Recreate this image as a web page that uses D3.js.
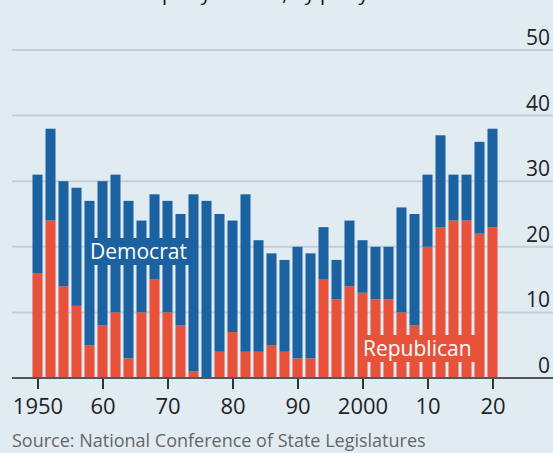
<!DOCTYPE html>
<html>
<head>
<meta charset="utf-8">
<script src="https://cdn.jsdelivr.net/npm/d3@7"></script>
<style>
  body { margin: 0; background: #e1ebf2; }
  svg { display: block; font-family: "Open Sans", sans-serif; }
</style>
</head>
<body>
<div id="chart"></div>
<script>
// states with one-party control, every two years
var years = d3.range(1950, 2021, 2);
var republican = [16,24,14,11,5,8,10,3,10,15,10,8,1,0,4,7,4,4,5,4,3,3,15,12,14,13,12,12,10,8,20,23,24,24,22,23];
var democrat   = [15,14,16,18,22,22,21,24,14,13,17,17,27,27,21,17,24,17,14,14,17,16,8,6,10,8,8,8,16,17,11,14,7,7,14,15];
var yTicks = [0, 10, 20, 30, 40, 50];
var xTicks = [1950, 1960, 1970, 1980, 1990, 2000, 2010, 2020];

var width = 553, height = 453;
var blue = "#1c62a0", red = "#e8513a";

var svg = d3.select("#chart").append("svg")
    .attr("width", width)
    .attr("height", height);

svg.append("rect")
    .attr("width", width)
    .attr("height", height)
    .attr("fill", "#e1ebf2");

var x = d3.scaleLinear().domain([1950, 2020]).range([37.5, 492.5]);
var y = d3.scaleLinear().domain([0, 50]).range([378, 50]);
var barW = 10;

// title, mostly cropped off the top as in the original
svg.append("text")
    .attr("x", 162)
    .attr("y", 0)
    .attr("font-size", "20px")
    .attr("fill", "#111")
    .text("party control, by party");

// gridlines
svg.append("g").selectAll("line")
    .data(yTicks.filter(function(d) { return d > 0; }))
    .enter().append("line")
    .attr("x1", 12)
    .attr("x2", width)
    .attr("y1", function(d) { return y(d); })
    .attr("y2", function(d) { return y(d); })
    .attr("stroke", "#c3cfd8")
    .attr("stroke-width", 2);

// y labels sit above their gridline on the right
svg.append("g").selectAll("text")
    .data(yTicks)
    .enter().append("text")
    .attr("x", 550)
    .attr("y", function(d) { return y(d) - 5; })
    .attr("text-anchor", "end")
    .attr("font-size", "21px")
    .attr("fill", "#222")
    .text(function(d) { return d; });

// stacked bars
var rows = years.map(function(yr, i) {
    return { year: yr, republican: republican[i], democrat: democrat[i] };
});
var series = d3.stack().keys(["republican", "democrat"])(rows);
var color = d3.scaleOrdinal().domain(["republican", "democrat"]).range([red, blue]);

svg.append("g").selectAll("g")
    .data(series)
    .enter().append("g")
    .attr("fill", function(d) { return color(d.key); })
    .selectAll("rect")
    .data(function(d) { return d; })
    .enter().append("rect")
    .attr("x", function(d) { return x(d.data.year) - barW / 2; })
    .attr("width", barW)
    .attr("y", function(d) { return y(d[1]); })
    .attr("height", function(d) { return y(d[0]) - y(d[1]); });

// x axis
var xAxis = d3.axisBottom(x)
    .tickValues(xTicks)
    .tickSize(11)
    .tickPadding(9)
    .tickFormat(function(d) { return (d === 1950 || d === 2000) ? d : d3.format("02d")(d % 100); });

var gx = svg.append("g")
    .attr("transform", "translate(0," + y(0) + ")")
    .call(xAxis);
gx.select(".domain").remove();
gx.selectAll(".tick line").attr("stroke", "#333").attr("stroke-width", 2);
gx.selectAll(".tick text")
    .attr("font-family", "Open Sans, sans-serif")
    .attr("font-size", "22px")
    .attr("fill", "#222");

svg.append("line")
    .attr("x1", 12)
    .attr("x2", width)
    .attr("y1", y(0))
    .attr("y2", y(0))
    .attr("stroke", "#555")
    .attr("stroke-width", 2);

// in-chart labels
function label(text, lx, baseline, fill) {
    var t = svg.append("text")
        .attr("x", lx)
        .attr("y", baseline)
        .attr("font-size", "21px")
        .attr("fill", "#fff")
        .text(text);
    var b = t.node().getBBox();
    svg.insert("rect", function() { return t.node(); })
        .attr("x", b.x - 5)
        .attr("y", b.y + 1)
        .attr("width", b.width + 10)
        .attr("height", b.height - 1)
        .attr("fill", fill);
}
label("Democrat", 90, 259, blue);
label("Republican", 363, 356, red);

svg.append("text")
    .attr("x", 12)
    .attr("y", 447)
    .attr("font-size", "18px")
    .attr("fill", "#666")
    .text("Source: National Conference of State Legislatures");
</script>
</body>
</html>
